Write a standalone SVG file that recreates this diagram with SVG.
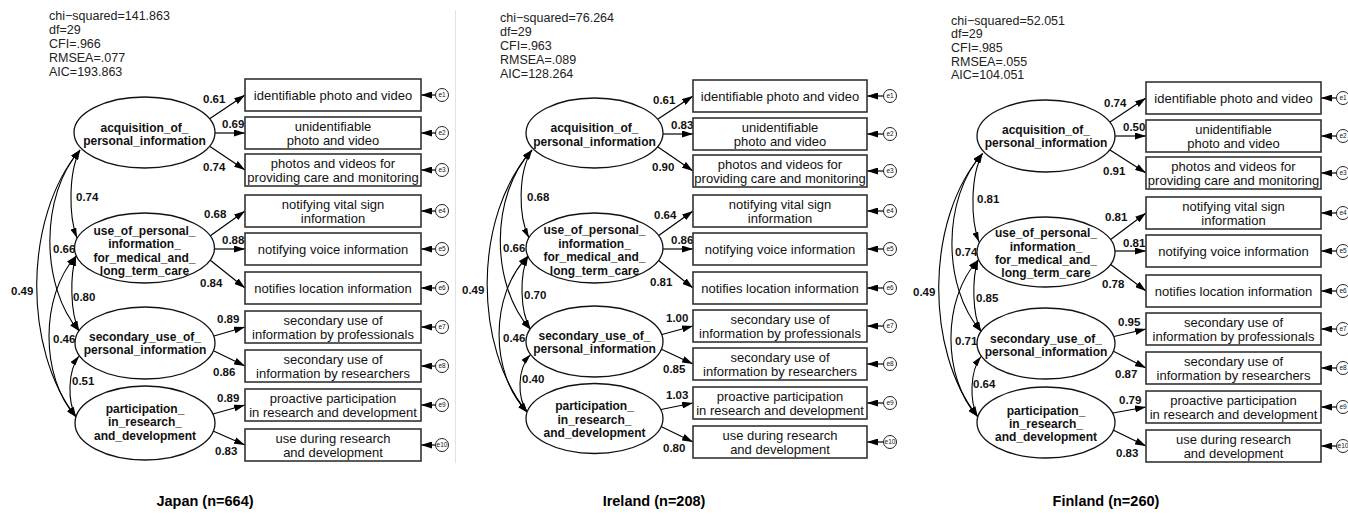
<svg xmlns="http://www.w3.org/2000/svg" width="1348" height="515" viewBox="0 0 1348 515">
<style>
.box{fill:#fff;stroke:#333;stroke-width:1.6}
.lat{fill:#fff;stroke:#111;stroke-width:1.3}
.err{fill:#fff;stroke:#222;stroke-width:1}
text{font-family:"Liberation Sans",Arial,sans-serif;fill:#111}
.bt{font-size:13px;text-anchor:middle}
.lt{font-size:12px;font-weight:bold;text-anchor:middle}
.num{font-size:11.5px;font-weight:bold}
.st{font-size:12.5px;fill:#222}
.et{font-size:6.5px;text-anchor:middle}
.cap{font-size:14.5px;font-weight:bold;text-anchor:middle;fill:#000}
.c{fill:none;stroke:#000;stroke-width:1.2;marker-end:url(#ah)}
.cv{fill:none;stroke:#000;stroke-width:1.1;marker-start:url(#ah2);marker-end:url(#ah2)}
</style>
<defs>
<marker id="ah" markerUnits="userSpaceOnUse" markerWidth="11" markerHeight="7" viewBox="0 0 11 7" refX="11" refY="3.5" orient="auto-start-reverse"><path d="M0,0 L11,3.5 L0,7 Z" fill="#000"/></marker>
<marker id="ah2" markerUnits="userSpaceOnUse" markerWidth="10" markerHeight="6" viewBox="0 0 10 6" refX="10" refY="3" orient="auto-start-reverse"><path d="M0,0 L10,3 L0,6 Z" fill="#000"/></marker>
</defs>
<rect width="1348" height="515" fill="#fff"/>
<line x1="455.5" y1="10" x2="455.5" y2="463" stroke="#e2e2e2" stroke-width="1"/>

<!-- ================= PANEL 1 : JAPAN ================= -->
<g id="p1-stats">
<text class="st" x="49" y="20">chi−squared=141.863</text>
<text class="st" x="49" y="34">df=29</text>
<text class="st" x="49" y="48">CFI=.966</text>
<text class="st" x="49" y="62">RMSEA=.077</text>
<text class="st" x="49" y="75.5">AIC=193.863</text>
</g>
<g id="p1-connectors">
<path class="c" d="M210,118.5 L245,95"/>
<path class="c" d="M215,133 L245,133"/>
<path class="c" d="M210,146.5 L245,170"/>
<path class="c" d="M210,236 L245,211"/>
<path class="c" d="M214.5,249 L245,249"/>
<path class="c" d="M210,260 L245,288"/>
<path class="c" d="M214,336 L245,327"/>
<path class="c" d="M214,351 L245,366"/>
<path class="c" d="M213,414 L245,405"/>
<path class="c" d="M213,431 L245,445"/>
<path class="c" d="M435.5,95 L421,95"/>
<path class="c" d="M435.5,133 L421,133"/>
<path class="c" d="M435.5,170 L421,170"/>
<path class="c" d="M435.5,211 L421,211"/>
<path class="c" d="M435.5,249 L421,249"/>
<path class="c" d="M435.5,288 L421,288"/>
<path class="c" d="M435.5,327 L421,327"/>
<path class="c" d="M435.5,366 L421,366"/>
<path class="c" d="M435.5,405 L421,405"/>
<path class="c" d="M435.5,445 L421,445"/>
<path class="cv" d="M80,150 C68.5,172 68.5,216 77,238"/>
<path class="cv" d="M80,150 C40,195 40,286 79,331"/>
<path class="cv" d="M80,150 C23,217 23,350 76,417"/>
<path class="cv" d="M76,256 C70,275 70,312 79,331"/>
<path class="cv" d="M76,256 C40,296 40,377 76,417"/>
<path class="cv" d="M79,356 C67.5,371 67.5,402 76,417"/>
<text class="num" x="203" y="103">0.61</text>
<text class="num" x="222" y="128">0.69</text>
<text class="num" x="203" y="171">0.74</text>
<text class="num" x="204" y="218">0.68</text>
<text class="num" x="222" y="244">0.88</text>
<text class="num" x="200" y="287">0.84</text>
<text class="num" x="217" y="323">0.89</text>
<text class="num" x="213" y="376">0.86</text>
<text class="num" x="217" y="402">0.89</text>
<text class="num" x="215" y="455">0.83</text>
<text class="num" x="76" y="201">0.74</text>
<text class="num" x="53" y="253">0.66</text>
<text class="num" x="11" y="295">0.49</text>
<text class="num" x="73" y="301">0.80</text>
<text class="num" x="53" y="343">0.46</text>
<text class="num" x="72" y="385">0.51</text>
</g>
<g id="p1-f1"><ellipse class="lat" cx="144.5" cy="132.5" rx="70.5" ry="35.5"/><text class="lt" x="144.5" y="131.5">acquisition_of_</text><text class="lt" x="144.5" y="144.5">personal_information</text></g>
<g id="p1-f2"><ellipse class="lat" cx="144.5" cy="248" rx="70" ry="35"/><text class="lt" x="144.5" y="234.5">use_of_personal_</text><text class="lt" x="144.5" y="248">information_</text><text class="lt" x="144.5" y="261.5">for_medical_and_</text><text class="lt" x="144.5" y="275">long_term_care</text></g>
<g id="p1-f3"><ellipse class="lat" cx="145" cy="343" rx="70" ry="36"/><text class="lt" x="145" y="341">secondary_use_of_</text><text class="lt" x="145" y="353.5">personal_information</text></g>
<g id="p1-f4"><ellipse class="lat" cx="145" cy="423" rx="70" ry="37"/><text class="lt" x="145" y="412.5">participation_</text><text class="lt" x="145" y="426">in_research_</text><text class="lt" x="145" y="439.5">and_development</text></g>
<g id="p1-b1"><rect class="box" x="245" y="79" width="176" height="32"/><text class="bt" x="333" y="99.5">identifiable photo and video</text></g>
<g id="p1-b2"><rect class="box" x="245" y="117" width="176" height="32"/><text class="bt" x="333" y="131">unidentifiable</text><text class="bt" x="333" y="144.5">photo and video</text></g>
<g id="p1-b3"><rect class="box" x="245" y="154" width="176" height="32"/><text class="bt" x="333" y="168">photos and videos for</text><text class="bt" x="333" y="181.5">providing care and monitoring</text></g>
<g id="p1-b4"><rect class="box" x="245" y="195" width="176" height="32"/><text class="bt" x="333" y="209">notifying vital sign</text><text class="bt" x="333" y="222.5">information</text></g>
<g id="p1-b5"><rect class="box" x="245" y="233" width="176" height="32"/><text class="bt" x="333" y="253.5">notifying voice information</text></g>
<g id="p1-b6"><rect class="box" x="245" y="272" width="176" height="32"/><text class="bt" x="333" y="292.5">notifies location information</text></g>
<g id="p1-b7"><rect class="box" x="245" y="311" width="176" height="32"/><text class="bt" x="333" y="325">secondary use of</text><text class="bt" x="333" y="338.5">information by professionals</text></g>
<g id="p1-b8"><rect class="box" x="245" y="350" width="176" height="32"/><text class="bt" x="333" y="364">secondary use of</text><text class="bt" x="333" y="377.5">information by researchers</text></g>
<g id="p1-b9"><rect class="box" x="245" y="389" width="176" height="32"/><text class="bt" x="333" y="403">proactive participation</text><text class="bt" x="333" y="416.5">in research and development</text></g>
<g id="p1-b10"><rect class="box" x="245" y="429" width="176" height="32"/><text class="bt" x="333" y="443">use during research</text><text class="bt" x="333" y="456.5">and development</text></g>
<g id="p1-e1"><circle class="err" cx="442" cy="95" r="6.5"/><text class="et" x="442" y="97.3">e1</text></g>
<g id="p1-e2"><circle class="err" cx="442" cy="133" r="6.5"/><text class="et" x="442" y="135.3">e2</text></g>
<g id="p1-e3"><circle class="err" cx="442" cy="170" r="6.5"/><text class="et" x="442" y="172.3">e3</text></g>
<g id="p1-e4"><circle class="err" cx="442" cy="211" r="6.5"/><text class="et" x="442" y="213.3">e4</text></g>
<g id="p1-e5"><circle class="err" cx="442" cy="249" r="6.5"/><text class="et" x="442" y="251.3">e5</text></g>
<g id="p1-e6"><circle class="err" cx="442" cy="288" r="6.5"/><text class="et" x="442" y="290.3">e6</text></g>
<g id="p1-e7"><circle class="err" cx="442" cy="327" r="6.5"/><text class="et" x="442" y="329.3">e7</text></g>
<g id="p1-e8"><circle class="err" cx="442" cy="366" r="6.5"/><text class="et" x="442" y="368.3">e8</text></g>
<g id="p1-e9"><circle class="err" cx="442" cy="405" r="6.5"/><text class="et" x="442" y="407.3">e9</text></g>
<g id="p1-e10"><circle class="err" cx="442" cy="445" r="6.5"/><text class="et" x="442" y="447.3">e10</text></g>
<g id="p1-caption"><text class="cap" x="205" y="506">Japan (n=664)</text></g>

<!-- ================= PANEL 2 : IRELAND ================= -->
<g id="p2-stats">
<text class="st" x="500" y="22">chi−squared=76.264</text>
<text class="st" x="500" y="36">df=29</text>
<text class="st" x="500" y="50">CFI=.963</text>
<text class="st" x="500" y="64">RMSEA=.089</text>
<text class="st" x="500" y="77.5">AIC=128.264</text>
</g>
<g id="p2-connectors">
<path class="c" d="M658,119 L693,96"/>
<path class="c" d="M663,134 L693,134"/>
<path class="c" d="M658,147 L693,171"/>
<path class="c" d="M658,236 L693,211"/>
<path class="c" d="M663,249 L693,249"/>
<path class="c" d="M658,260 L693,288"/>
<path class="c" d="M662,334.5 L693,326"/>
<path class="c" d="M662,349.5 L693,364"/>
<path class="c" d="M661,409.5 L693,403"/>
<path class="c" d="M661,426.5 L693,442"/>
<path class="c" d="M883.5,96 L867,96"/>
<path class="c" d="M883.5,134 L867,134"/>
<path class="c" d="M883.5,171 L867,171"/>
<path class="c" d="M883.5,211 L867,211"/>
<path class="c" d="M883.5,249 L867,249"/>
<path class="c" d="M883.5,288 L867,288"/>
<path class="c" d="M883.5,326 L867,326"/>
<path class="c" d="M883.5,364 L867,364"/>
<path class="c" d="M883.5,403 L867,403"/>
<path class="c" d="M883.5,442 L867,442"/>
<path class="cv" d="M532,150 C518,172 518,216 529,238"/>
<path class="cv" d="M532,150 C490,195 490,285 530.5,329.5"/>
<path class="cv" d="M532,150 C473,216 473,347 527.5,412.5"/>
<path class="cv" d="M528,256 C519.6,274 519.6,311 530.5,329.5"/>
<path class="cv" d="M528,256 C489.5,295 489.5,373.5 527.5,412.5"/>
<path class="cv" d="M530.5,354.5 C517,369 517,398 527.5,412.5"/>
<text class="num" x="653" y="104">0.61</text>
<text class="num" x="671" y="129">0.83</text>
<text class="num" x="652" y="171">0.90</text>
<text class="num" x="654" y="219">0.64</text>
<text class="num" x="671" y="244">0.86</text>
<text class="num" x="650" y="286">0.81</text>
<text class="num" x="666" y="322">1.00</text>
<text class="num" x="663" y="373">0.85</text>
<text class="num" x="666" y="399">1.03</text>
<text class="num" x="663" y="452">0.80</text>
<text class="num" x="527" y="201">0.68</text>
<text class="num" x="503" y="252">0.66</text>
<text class="num" x="462" y="294">0.49</text>
<text class="num" x="524" y="299">0.70</text>
<text class="num" x="503" y="342">0.46</text>
<text class="num" x="522" y="383">0.40</text>
</g>
<g id="p2-f1"><ellipse class="lat" cx="594.5" cy="133" rx="68.5" ry="35"/><text class="lt" x="594.5" y="132">acquisition_of_</text><text class="lt" x="594.5" y="145.5">personal_information</text></g>
<g id="p2-f2"><ellipse class="lat" cx="594.5" cy="248" rx="68.5" ry="35"/><text class="lt" x="594.5" y="234">use_of_personal_</text><text class="lt" x="594.5" y="247.5">information_</text><text class="lt" x="594.5" y="261">for_medical_and_</text><text class="lt" x="594.5" y="274.5">long_term_care</text></g>
<g id="p2-f3"><ellipse class="lat" cx="594.5" cy="341.5" rx="68.5" ry="35.5"/><text class="lt" x="594.5" y="339.5">secondary_use_of_</text><text class="lt" x="594.5" y="352.8">personal_information</text></g>
<g id="p2-f4"><ellipse class="lat" cx="594.5" cy="418.5" rx="68.5" ry="35"/><text class="lt" x="594.5" y="409.5">participation_</text><text class="lt" x="594.5" y="423.5">in_research_</text><text class="lt" x="594.5" y="437">and_development</text></g>
<g id="p2-b1"><rect class="box" x="693" y="80" width="174" height="32"/><text class="bt" x="780" y="100.5">identifiable photo and video</text></g>
<g id="p2-b2"><rect class="box" x="693" y="118" width="174" height="32"/><text class="bt" x="780" y="132">unidentifiable</text><text class="bt" x="780" y="145.5">photo and video</text></g>
<g id="p2-b3"><rect class="box" x="693" y="155" width="174" height="32"/><text class="bt" x="780" y="169">photos and videos for</text><text class="bt" x="780" y="182.5">providing care and monitoring</text></g>
<g id="p2-b4"><rect class="box" x="693" y="195" width="174" height="32"/><text class="bt" x="780" y="209">notifying vital sign</text><text class="bt" x="780" y="222.5">information</text></g>
<g id="p2-b5"><rect class="box" x="693" y="233" width="174" height="32"/><text class="bt" x="780" y="253.5">notifying voice information</text></g>
<g id="p2-b6"><rect class="box" x="693" y="272" width="174" height="32"/><text class="bt" x="780" y="292.5">notifies location information</text></g>
<g id="p2-b7"><rect class="box" x="693" y="310" width="174" height="32"/><text class="bt" x="780" y="324">secondary use of</text><text class="bt" x="780" y="337.5">information by professionals</text></g>
<g id="p2-b8"><rect class="box" x="693" y="348" width="174" height="32"/><text class="bt" x="780" y="362">secondary use of</text><text class="bt" x="780" y="375.5">information by researchers</text></g>
<g id="p2-b9"><rect class="box" x="693" y="387" width="174" height="32"/><text class="bt" x="780" y="401">proactive participation</text><text class="bt" x="780" y="414.5">in research and development</text></g>
<g id="p2-b10"><rect class="box" x="693" y="426" width="174" height="32"/><text class="bt" x="780" y="440">use during research</text><text class="bt" x="780" y="453.5">and development</text></g>
<g id="p2-e1"><circle class="err" cx="890" cy="96" r="6.5"/><text class="et" x="890" y="98.3">e1</text></g>
<g id="p2-e2"><circle class="err" cx="890" cy="134" r="6.5"/><text class="et" x="890" y="136.3">e2</text></g>
<g id="p2-e3"><circle class="err" cx="890" cy="171" r="6.5"/><text class="et" x="890" y="173.3">e3</text></g>
<g id="p2-e4"><circle class="err" cx="890" cy="211" r="6.5"/><text class="et" x="890" y="213.3">e4</text></g>
<g id="p2-e5"><circle class="err" cx="890" cy="249" r="6.5"/><text class="et" x="890" y="251.3">e5</text></g>
<g id="p2-e6"><circle class="err" cx="890" cy="288" r="6.5"/><text class="et" x="890" y="290.3">e6</text></g>
<g id="p2-e7"><circle class="err" cx="890" cy="326" r="6.5"/><text class="et" x="890" y="328.3">e7</text></g>
<g id="p2-e8"><circle class="err" cx="890" cy="364" r="6.5"/><text class="et" x="890" y="366.3">e8</text></g>
<g id="p2-e9"><circle class="err" cx="890" cy="403" r="6.5"/><text class="et" x="890" y="405.3">e9</text></g>
<g id="p2-e10"><circle class="err" cx="890" cy="442" r="6.5"/><text class="et" x="890" y="444.3">e10</text></g>
<g id="p2-caption"><text class="cap" x="654" y="506">Ireland (n=208)</text></g>

<!-- ================= PANEL 3 : FINLAND ================= -->
<g id="p3-stats">
<text class="st" x="951" y="24.5">chi−squared=52.051</text>
<text class="st" x="951" y="38">df=29</text>
<text class="st" x="951" y="51.5">CFI=.985</text>
<text class="st" x="951" y="65.5">RMSEA=.055</text>
<text class="st" x="951" y="78.5">AIC=104.051</text>
</g>
<g id="p3-connectors">
<path class="c" d="M1110,122 L1146,98"/>
<path class="c" d="M1115,136 L1146,136"/>
<path class="c" d="M1110,150 L1146,173"/>
<path class="c" d="M1110,240 L1146,213"/>
<path class="c" d="M1115,251 L1146,251"/>
<path class="c" d="M1110,264 L1146,291"/>
<path class="c" d="M1114,336.5 L1146,329"/>
<path class="c" d="M1114,351.5 L1146,368"/>
<path class="c" d="M1113,413 L1146,407"/>
<path class="c" d="M1113,430 L1146,446"/>
<path class="c" d="M1336.5,98 L1321,98"/>
<path class="c" d="M1336.5,136 L1321,136"/>
<path class="c" d="M1336.5,173 L1321,173"/>
<path class="c" d="M1336.5,213 L1321,213"/>
<path class="c" d="M1336.5,251 L1321,251"/>
<path class="c" d="M1336.5,291 L1321,291"/>
<path class="c" d="M1336.5,329 L1321,329"/>
<path class="c" d="M1336.5,368 L1321,368"/>
<path class="c" d="M1336.5,407 L1321,407"/>
<path class="c" d="M1336.5,446 L1321,446"/>
<path class="cv" d="M982.5,153.5 C970.4,175.6 970.4,219.9 979,242"/>
<path class="cv" d="M982.5,153.5 C942,198 942,287 981,331.5"/>
<path class="cv" d="M982.5,153.5 C925,219 925,351 977.5,416.5"/>
<path class="cv" d="M978,260 C972,278 972,313.6 981,331.5"/>
<path class="cv" d="M978,260 C942,299 942,377.4 977.5,416.5"/>
<path class="cv" d="M981,356.5 C969.6,371.5 969.6,401.5 977.5,416.5"/>
<text class="num" x="1104" y="107">0.74</text>
<text class="num" x="1123" y="131">0.50</text>
<text class="num" x="1103" y="175">0.91</text>
<text class="num" x="1105" y="221">0.81</text>
<text class="num" x="1123" y="247">0.81</text>
<text class="num" x="1102" y="288">0.78</text>
<text class="num" x="1118" y="326">0.95</text>
<text class="num" x="1115" y="378">0.87</text>
<text class="num" x="1119" y="404">0.79</text>
<text class="num" x="1116" y="457">0.83</text>
<text class="num" x="977" y="203">0.81</text>
<text class="num" x="955" y="256">0.74</text>
<text class="num" x="913" y="296">0.49</text>
<text class="num" x="976" y="302">0.85</text>
<text class="num" x="955" y="345">0.71</text>
<text class="num" x="973" y="388">0.64</text>
</g>
<g id="p3-f1"><ellipse class="lat" cx="1046" cy="136" rx="69" ry="36"/><text class="lt" x="1046" y="133.5">acquisition_of_</text><text class="lt" x="1046" y="147">personal_information</text></g>
<g id="p3-f2"><ellipse class="lat" cx="1046" cy="252" rx="69" ry="35"/><text class="lt" x="1046" y="237">use_of_personal_</text><text class="lt" x="1046" y="250.5">information_</text><text class="lt" x="1046" y="264">for_medical_and_</text><text class="lt" x="1046" y="277">long_term_care</text></g>
<g id="p3-f3"><ellipse class="lat" cx="1046" cy="343.5" rx="69" ry="35.5"/><text class="lt" x="1046" y="342.8">secondary_use_of_</text><text class="lt" x="1046" y="356.2">personal_information</text></g>
<g id="p3-f4"><ellipse class="lat" cx="1046" cy="422.5" rx="69" ry="35.5"/><text class="lt" x="1046" y="414.5">participation_</text><text class="lt" x="1046" y="428">in_research_</text><text class="lt" x="1046" y="441">and_development</text></g>
<g id="p3-b1"><rect class="box" x="1146" y="82" width="175" height="32"/><text class="bt" x="1233.5" y="102.5">identifiable photo and video</text></g>
<g id="p3-b2"><rect class="box" x="1146" y="120" width="175" height="32"/><text class="bt" x="1233.5" y="134">unidentifiable</text><text class="bt" x="1233.5" y="147.5">photo and video</text></g>
<g id="p3-b3"><rect class="box" x="1146" y="157" width="175" height="32"/><text class="bt" x="1233.5" y="171">photos and videos for</text><text class="bt" x="1233.5" y="184.5">providing care and monitoring</text></g>
<g id="p3-b4"><rect class="box" x="1146" y="197" width="175" height="32"/><text class="bt" x="1233.5" y="211">notifying vital sign</text><text class="bt" x="1233.5" y="224.5">information</text></g>
<g id="p3-b5"><rect class="box" x="1146" y="235" width="175" height="32"/><text class="bt" x="1233.5" y="255.5">notifying voice information</text></g>
<g id="p3-b6"><rect class="box" x="1146" y="275" width="175" height="32"/><text class="bt" x="1233.5" y="295.5">notifies location information</text></g>
<g id="p3-b7"><rect class="box" x="1146" y="313" width="175" height="32"/><text class="bt" x="1233.5" y="327">secondary use of</text><text class="bt" x="1233.5" y="340.5">information by professionals</text></g>
<g id="p3-b8"><rect class="box" x="1146" y="352" width="175" height="32"/><text class="bt" x="1233.5" y="366">secondary use of</text><text class="bt" x="1233.5" y="379.5">information by researchers</text></g>
<g id="p3-b9"><rect class="box" x="1146" y="391" width="175" height="32"/><text class="bt" x="1233.5" y="405">proactive participation</text><text class="bt" x="1233.5" y="418.5">in research and development</text></g>
<g id="p3-b10"><rect class="box" x="1146" y="430" width="175" height="32"/><text class="bt" x="1233.5" y="444">use during research</text><text class="bt" x="1233.5" y="457.5">and development</text></g>
<g id="p3-e1"><circle class="err" cx="1343" cy="98" r="6.5"/><text class="et" x="1343" y="100.3">e1</text></g>
<g id="p3-e2"><circle class="err" cx="1343" cy="136" r="6.5"/><text class="et" x="1343" y="138.3">e2</text></g>
<g id="p3-e3"><circle class="err" cx="1343" cy="173" r="6.5"/><text class="et" x="1343" y="175.3">e3</text></g>
<g id="p3-e4"><circle class="err" cx="1343" cy="213" r="6.5"/><text class="et" x="1343" y="215.3">e4</text></g>
<g id="p3-e5"><circle class="err" cx="1343" cy="251" r="6.5"/><text class="et" x="1343" y="253.3">e5</text></g>
<g id="p3-e6"><circle class="err" cx="1343" cy="291" r="6.5"/><text class="et" x="1343" y="293.3">e6</text></g>
<g id="p3-e7"><circle class="err" cx="1343" cy="329" r="6.5"/><text class="et" x="1343" y="331.3">e7</text></g>
<g id="p3-e8"><circle class="err" cx="1343" cy="368" r="6.5"/><text class="et" x="1343" y="370.3">e8</text></g>
<g id="p3-e9"><circle class="err" cx="1343" cy="407" r="6.5"/><text class="et" x="1343" y="409.3">e9</text></g>
<g id="p3-e10"><circle class="err" cx="1343" cy="446" r="6.5"/><text class="et" x="1343" y="448.3">e10</text></g>
<g id="p3-caption"><text class="cap" x="1106" y="506">Finland (n=260)</text></g>
</svg>
